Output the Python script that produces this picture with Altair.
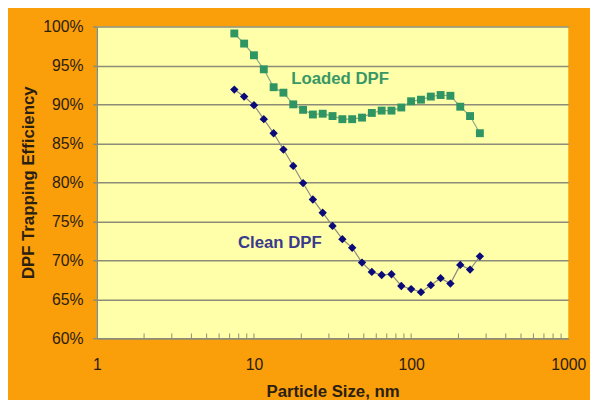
import altair as alt
import pandas as pd

sizes = [7.5, 8.66, 10.0, 11.55, 13.34, 15.4, 17.78, 20.54, 23.71, 27.38, 31.62,
         36.52, 42.17, 48.7, 56.23, 64.94, 74.99, 86.6, 100.0, 115.5, 133.4,
         154.0, 177.8, 205.4, 237.1, 273.8]
loaded = [99.1, 97.8, 96.3, 94.5, 92.2, 91.5, 90.0, 89.3, 88.7, 88.8, 88.5,
          88.1, 88.1, 88.3, 88.9, 89.2, 89.2, 89.6, 90.4, 90.6, 91.0, 91.2,
          91.1, 89.7, 88.5, 86.3]
clean = [91.9, 91.0, 89.9, 88.1, 86.3, 84.2, 82.1, 79.9, 77.8, 76.1, 74.4,
         72.7, 71.6, 69.7, 68.5, 68.1, 68.2, 66.7, 66.3, 65.9, 66.8, 67.7,
         67.0, 69.4, 68.8, 70.5]

label_text = ["Loaded DPF", "Clean DPF"]
label_x = [35.3, 14.6]
label_y = [93.2, 72.2]

minor_ticks = [2, 3, 4, 5, 6, 7, 8, 9, 10, 20, 30, 40, 50, 60, 70, 80, 90,
               100, 200, 300, 400, 500, 600, 700, 800, 900]

y_ticks = [60, 65, 70, 75, 80, 85, 90, 95, 100]
x_ticks = [1, 10, 100, 1000]

df = pd.DataFrame({"size": sizes * 2,
                   "eff": loaded + clean,
                   "series": ["Loaded DPF"] * len(sizes) + ["Clean DPF"] * len(sizes)})
lab = pd.DataFrame({"text": label_text, "x": label_x, "y": label_y})
ticks_df = pd.DataFrame({"t": minor_ticks})

xscale = alt.Scale(type="log", domain=[1, 1000], nice=False)
yscale = alt.Scale(domain=[60, 100], nice=False, zero=False)

xaxis = alt.Axis(title="Particle Size, nm", values=x_ticks, format="d",
                 ticks=False, grid=False, labelPadding=19,
                 titlePadding=11, labelFlush=False, labelOverlap=False)
yaxis = alt.Axis(title="DPF Trapping Efficiency", values=y_ticks,
                 labelExpr="datum.value + '%'", tickSize=4, labelOverlap=False,
                 labelPadding=10, titlePadding=5, grid=True)

xenc = alt.X("size:Q", scale=xscale, axis=xaxis)
yenc = alt.Y("eff:Q", scale=yscale, axis=yaxis)

styles = {
    "Loaded DPF": dict(line="#8aa882", point="#2f9563", shape="square", text="#379865"),
    "Clean DPF": dict(line="#8e8a7e", point="#0a0a78", shape="diamond", text="#3a3a8c"),
}

layers = []
for name, st in styles.items():
    sub = alt.Chart(df).transform_filter(alt.datum.series == name)
    layers.append(sub.mark_line(color=st["line"], strokeWidth=1.2).encode(x=xenc, y=yenc))
    layers.append(sub.mark_point(shape=st["shape"], filled=True, opacity=1,
                                 color=st["point"], size=64 if st["shape"] == "square" else 72,
                                 ).encode(x=xenc, y=yenc))

ticks = alt.Chart(ticks_df).mark_rule(color="#8c8c78", strokeWidth=1).encode(
    x=alt.X("t:Q", scale=xscale, axis=xaxis),
    y=alt.datum(60, axis=yaxis), y2=alt.datum(60.6))

texts = alt.Chart(lab).mark_text(fontSize=17, fontWeight="bold", font="Liberation Sans").encode(
    x=alt.X("x:Q", scale=xscale, axis=xaxis),
    y=alt.Y("y:Q", scale=yscale, axis=yaxis),
    text="text:N",
    color=alt.Color("text:N", scale=alt.Scale(domain=label_text,
                                              range=[styles[t]["text"] for t in label_text]),
                    legend=None))

chart = alt.layer(*layers, ticks, texts).properties(
    width=478, height=316,
    autosize=alt.AutoSizeParams(type="none"),
    padding={"left": 90, "top": 16, "right": 22, "bottom": 60},
    background="#fa9e0a",
).configure_view(fill="#ffffaa", stroke=None).configure_axis(
    labelFont="Liberation Sans", labelFontSize=16, labelColor="#2a2010",
    titleFont="Liberation Sans", titleFontSize=17, titleFontWeight="bold", titleColor="#2a2010",
    domainColor="#8c8c78", domainWidth=1.5, tickColor="#8c8c78", tickWidth=1.5,
    gridColor="#8c8c78", gridWidth=1.5, gridOpacity=1,
)

chart.save("out.html", embed_options={"renderer": "svg", "actions": False})
